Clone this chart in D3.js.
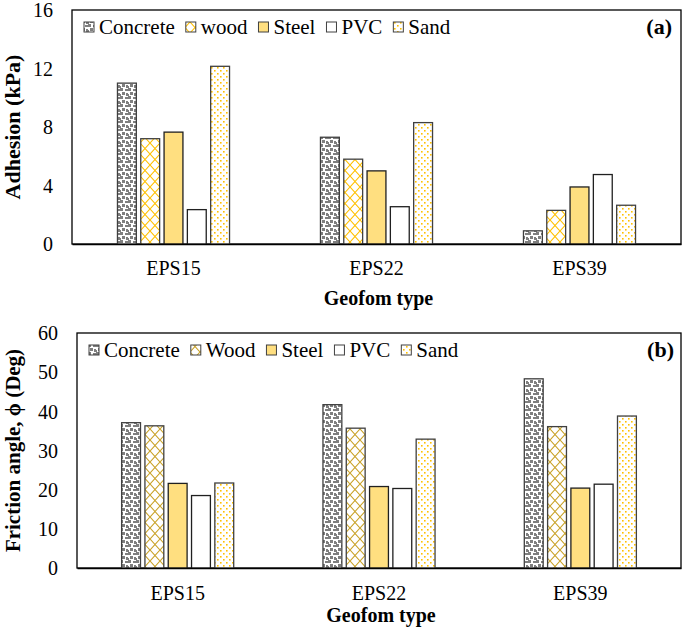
<!DOCTYPE html>
<html>
<head>
<meta charset="utf-8">
<script src="https://cdn.jsdelivr.net/npm/d3@7"></script>
</head>
<body style="margin:0">
<svg id="chart" width="685" height="631" font-family="Liberation Serif"></svg>
<script>
// ---------------- DATA ----------------
const categories = ["EPS15", "EPS22", "EPS39"];
const seriesTop = ["Concrete", "wood", "Steel", "PVC", "Sand"];
const seriesBottom = ["Concrete", "Wood", "Steel", "PVC", "Sand"];

// Adhesion (kPa), per material, over categories
const adhConcrete = [11.0, 7.3, 0.9];
const adhWood     = [7.2, 5.8, 2.3];
const adhSteel    = [7.65, 5.0, 3.9];
const adhPVC      = [2.35, 2.55, 4.75];
const adhSand     = [12.15, 8.3, 2.65];

// Friction angle (Deg), per material, over categories
const friConcrete = [37.1, 41.7, 48.3];
const friWood     = [36.3, 35.7, 36.1];
const friSteel    = [21.6, 20.8, 20.4];
const friPVC      = [18.5, 20.3, 21.4];
const friSand     = [21.7, 32.9, 38.8];

const adhTicks = [0, 4, 8, 12, 16];
const friTicks = [0, 10, 20, 30, 40, 50, 60];

// ---------------- SVG / PATTERNS ----------------
const FONT = "Liberation Serif";
const svg = d3.select("#chart");
const defs = svg.append("defs");

function confetti(id) {
  const p = defs.append("pattern").attr("id", id).attr("patternUnits", "userSpaceOnUse")
    .attr("width", 8).attr("height", 8);
  p.append("rect").attr("width", 8).attr("height", 8).attr("fill", "#fff");
  const sq = [[0,0,3,3],[5,1,3,2],[2,4,3,3],[6,5,2,3],[0,6,1,2]];
  sq.forEach(s => p.append("rect").attr("x", s[0]).attr("y", s[1]).attr("width", s[2]).attr("height", s[3]).attr("fill", "#7f7f7f"));
}
function lattice(id, color) {
  const p = defs.append("pattern").attr("id", id).attr("patternUnits", "userSpaceOnUse")
    .attr("width", 10).attr("height", 11);
  p.append("rect").attr("width", 10).attr("height", 11).attr("fill", "#fff");
  p.append("path").attr("d", "M0,0 L10,11 M10,0 L0,11").attr("stroke", color).attr("stroke-width", 1.1).attr("fill", "none");
}
function dots(id, color) {
  const p = defs.append("pattern").attr("id", id).attr("patternUnits", "userSpaceOnUse")
    .attr("width", 6).attr("height", 6);
  p.append("rect").attr("width", 6).attr("height", 6).attr("fill", "#fff");
  p.append("rect").attr("x", 1).attr("y", 1).attr("width", 1.6).attr("height", 1.6).attr("fill", color);
  p.append("rect").attr("x", 4).attr("y", 4).attr("width", 1.6).attr("height", 1.6).attr("fill", color);
}
confetti("pConc");
lattice("pWoodA", "#ffc000");
lattice("pWoodB", "#c9a227");
dots("pSand", "#ffc000");

const fillsTop = ["url(#pConc)", "url(#pWoodA)", "#ffdf80", "#ffffff", "url(#pSand)"];
const fillsBottom = ["url(#pConc)", "url(#pWoodB)", "#ffdf80", "#ffffff", "url(#pSand)"];
const strokes = ["#404040", "#404040", "#202020", "#202020", "#404040"];

function txt(sel, size, bold) {
  return sel.attr("font-family", FONT).attr("font-size", size)
    .attr("font-weight", bold ? "bold" : "normal").attr("fill", "#000");
}

// ---------------- PANEL ----------------
function panel(cfg) {
  const g = svg.append("g");
  const x = d3.scaleBand().domain(categories).range([cfg.left, cfg.right]);
  const y = d3.scaleLinear().domain(cfg.domain).range([cfg.bottom, cfg.top]);
  const inner = d3.scaleBand().domain(d3.range(cfg.series.length))
    .range([-58.25, 58.25]).paddingInner(0.19).paddingOuter(0.095);

  g.append("rect").attr("x", cfg.left).attr("y", cfg.top)
    .attr("width", cfg.right - cfg.left).attr("height", cfg.bottom - cfg.top)
    .attr("fill", "none").attr("stroke", "#000").attr("stroke-width", 1.3);

  cfg.values.forEach((vals, si) => {
    g.append("g").selectAll("rect").data(vals).join("rect")
      .attr("x", (d, i) => x(categories[i]) + x.bandwidth() / 2 + inner(si))
      .attr("y", d => y(d))
      .attr("width", inner.bandwidth())
      .attr("height", d => y(0) - y(d))
      .attr("fill", cfg.fills[si])
      .attr("stroke", strokes[si]).attr("stroke-width", 1.3);
  });

  const xAxis = d3.axisBottom(x).tickSize(0).tickPadding(0);
  const xg = g.append("g").attr("transform", `translate(0,${cfg.bottom})`).call(xAxis);
  xg.attr("font-family", FONT).attr("font-size", 20);
  xg.select(".domain").attr("stroke", "#000").attr("stroke-width", 1.6);
  txt(xg.selectAll("text"), 20, false).attr("dy", null).attr("y", cfg.xLabelDy);

  const yAxis = d3.axisLeft(y).tickValues(cfg.ticks).tickSize(0).tickPadding(0).tickFormat(d3.format("d"));
  const yg = g.append("g").attr("transform", `translate(${cfg.yLabelX},0)`).call(yAxis);
  yg.attr("font-family", FONT).attr("font-size", 20);
  yg.select(".domain").remove();
  txt(yg.selectAll("text"), 20, false).attr("x", 0).attr("dy", "0.34em");

  txt(g.append("text"), 20, true).attr("x", (cfg.left + cfg.right) / 2 + 2).attr("y", cfg.xTitleY)
    .attr("text-anchor", "middle").text("Geofom type");
  txt(g.append("text"), cfg.yTitleSize, true)
    .attr("transform", `translate(20,${(cfg.top + cfg.bottom) / 2}) rotate(-90)`)
    .attr("text-anchor", "middle").text(cfg.yTitle);

  txt(g.append("text"), 22, true).attr("x", cfg.tagX).attr("y", cfg.tagY)
    .attr("text-anchor", "end").text(cfg.tag);

  let lx = cfg.legendX;
  cfg.series.forEach((s, si) => {
    g.append("rect").attr("x", lx).attr("y", cfg.legendY - 5).attr("width", 10).attr("height", 10)
      .attr("fill", cfg.fills[si]).attr("stroke", "#404040").attr("stroke-width", 1);
    const t = txt(g.append("text"), 21, false).attr("x", lx + 15).attr("y", cfg.legendY + 7).text(s);
    lx += 15 + t.node().getComputedTextLength() + 11;
  });
}

panel({
  left: 72, right: 681, top: 10, bottom: 244,
  domain: [0, 16], ticks: adhTicks,
  series: seriesTop, fills: fillsTop,
  values: [adhConcrete, adhWood, adhSteel, adhPVC, adhSand],
  xLabelDy: 31, xTitleY: 305, yLabelX: 53,
  yTitle: "Adhesion (kPa)", yTitleSize: 22, tag: "(a)", tagX: 672, tagY: 34,
  legendX: 84, legendY: 27
});

panel({
  left: 77, right: 681, top: 333, bottom: 568,
  domain: [0, 60], ticks: friTicks,
  series: seriesBottom, fills: fillsBottom,
  values: [friConcrete, friWood, friSteel, friPVC, friSand],
  xLabelDy: 32, xTitleY: 622, yLabelX: 58,
  yTitle: "Friction angle, ϕ (Deg)", yTitleSize: 21, tag: "(b)", tagX: 674, tagY: 357,
  legendX: 89, legendY: 350
});
</script>
</body>
</html>
